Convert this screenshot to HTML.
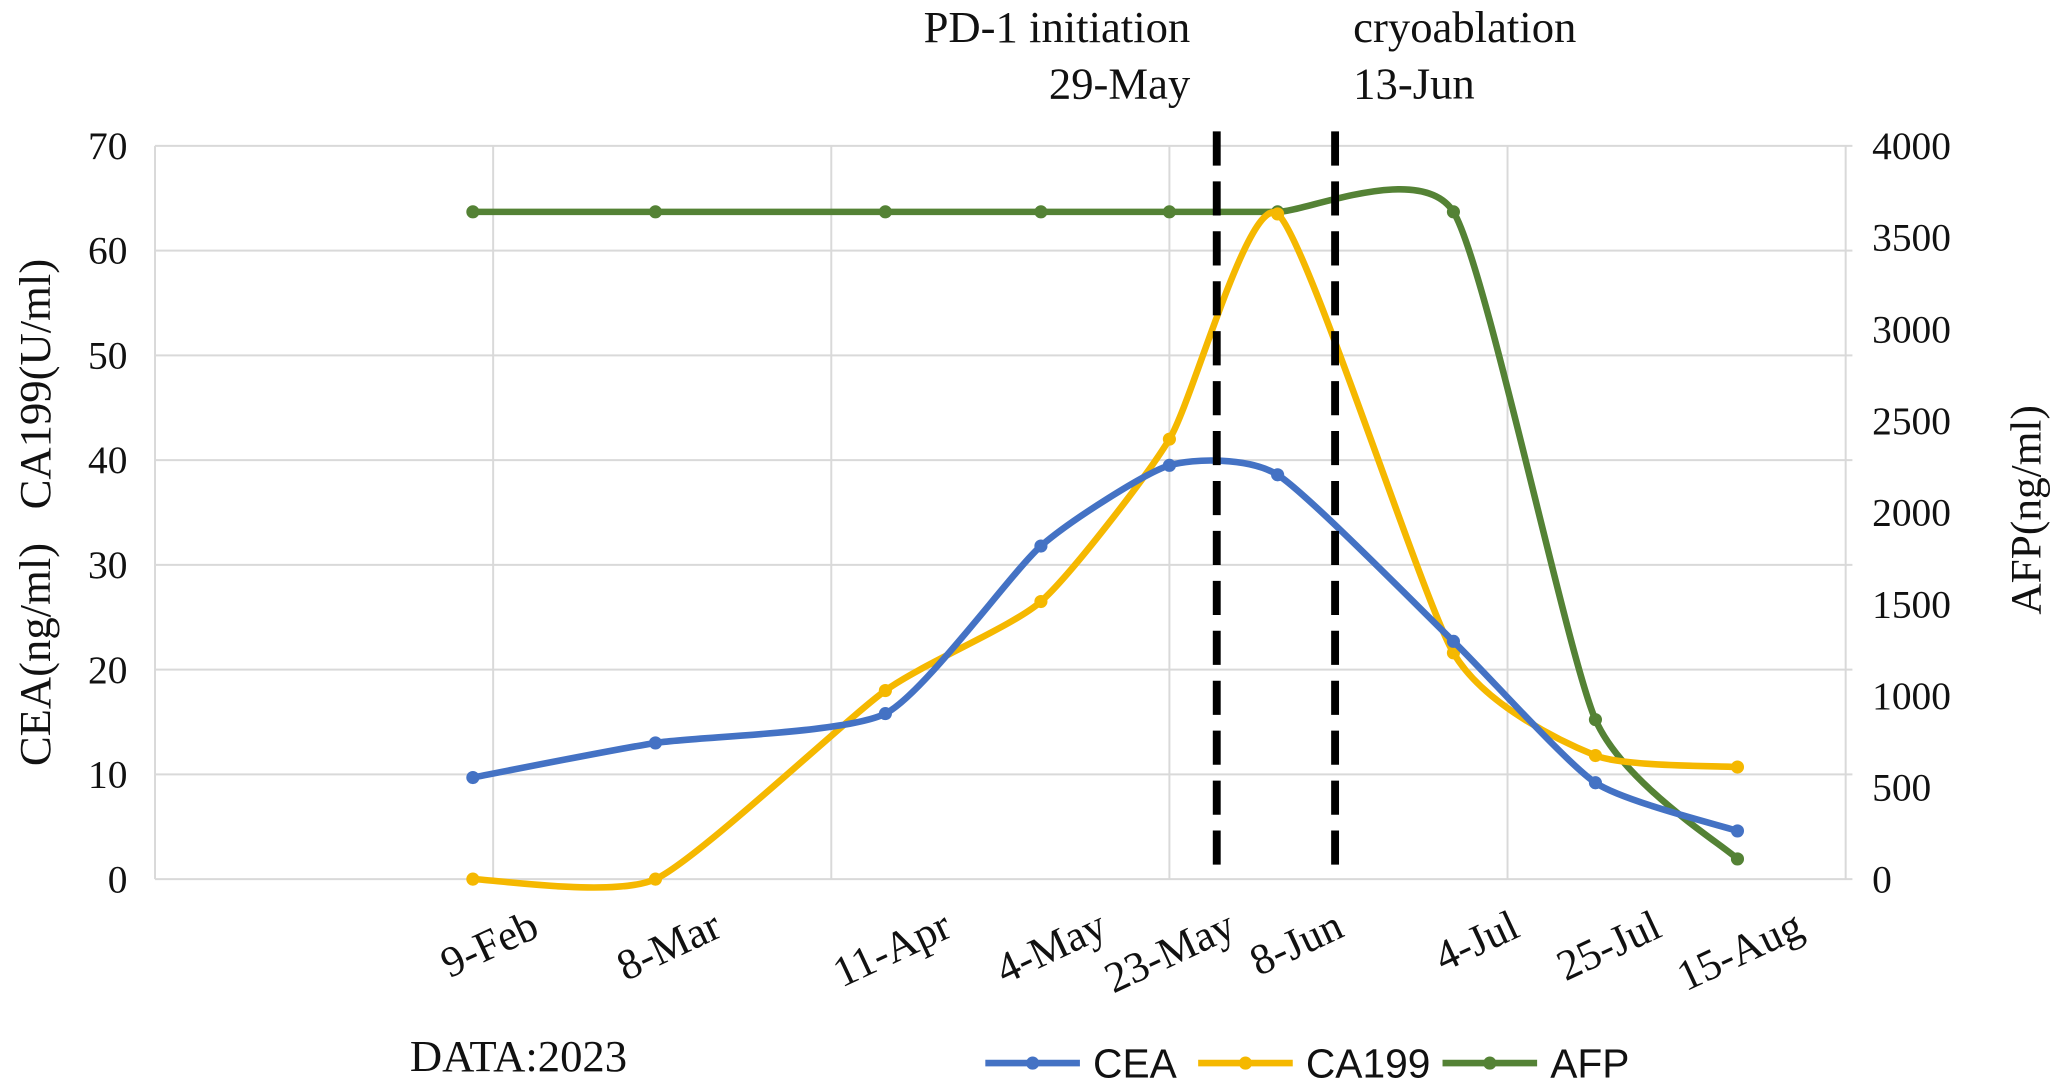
<!DOCTYPE html>
<html><head><meta charset="utf-8"><style>
html,body{margin:0;padding:0;background:#fff;}
svg{display:block;}
text{font-family:"Liberation Serif",serif;fill:#111;white-space:pre;}
</style></head><body>
<svg id="chart" width="2060" height="1092" viewBox="0 0 1568 831" preserveAspectRatio="none" xmlns="http://www.w3.org/2000/svg"></svg>
<script>
const dateLabels=["9-Feb","8-Mar","11-Apr","4-May","23-May","8-Jun","4-Jul","25-Jul","15-Aug"];
const dayOffsets=[0,27,61,84,103,119,145,166,187];
const ceaValues=[9.7,13.0,15.8,31.8,39.5,38.6,22.7,9.2,4.6];
const ca199Values=[0,0,18.0,26.5,42.0,63.5,21.6,11.8,10.7];
const afpValues=[3640,3640,3640,3640,3640,3640,3640,870,110];
const leftTicks=[0,10,20,30,40,50,60,70];
const rightTicks=[0,500,1000,1500,2000,2500,3000,3500,4000];
const eventDays=[110,127.5];
const eventLabels=[["PD-1 initiation","29-May"],["cryoablation","13-Jun"]];

const NS="http://www.w3.org/2000/svg";
const svg=document.getElementById('chart');
const L=118,R=1410,T=111,B=669,D0=-47,D1=204;
const x=d=>L+(d-D0)*(R-L)/(D1-D0);
const yL=v=>B-v*(B-T)/70;
const yR=v=>B-v*(B-T)/4000;
function el(tag,attrs,parent){const e=document.createElementNS(NS,tag);for(const k in attrs)e.setAttribute(k,attrs[k]);(parent||svg).appendChild(e);return e;}

for(const t of leftTicks){const g=el('line',{x1:L,x2:R,y1:yL(t),y2:yL(t),stroke:'#d9d9d9','stroke-width':1.5});

}
for(let d=D0;d<=D1+1;d+=50){const g=el('line',{x1:x(d),x2:x(d),y1:T,y2:B,stroke:'#d9d9d9','stroke-width':1.5});

}
for(const t of leftTicks){const tx=el('text',{x:97,y:yL(t)+10,'text-anchor':'end','font-size':30});tx.textContent=t;

}
for(const t of rightTicks){const tx=el('text',{x:1425,y:yR(t)+10,'text-anchor':'start','font-size':30});tx.textContent=t;

}
dateLabels.forEach((lab,i)=>{const px=x(dayOffsets[i])+52,py=712;
const tx=el('text',{x:px,y:py,'text-anchor':'end','font-size':33,transform:`rotate(-25 ${px} ${py})`});tx.textContent=lab;

});
let at=el('text',{x:0,y:0,'font-size':34,'text-anchor':'middle',transform:'translate(38 390) rotate(-90)'});at.textContent='CEA(ng/ml)   CA199(U/ml)';


at=el('text',{x:0,y:0,'font-size':33,'text-anchor':'middle',transform:'translate(1553 388) rotate(-90)'});at.textContent='AFP(ng/ml)';


at=el('text',{x:312,y:815,'font-size':34});at.textContent='DATA:2023';



function smooth(pts){let d=`M${pts[0][0]},${pts[0][1]}`;
for(let i=0;i<pts.length-1;i++){const p0=pts[i-1]||pts[i],p1=pts[i],p2=pts[i+1],p3=pts[i+2]||p2;const k=0.1;
d+=` C${p1[0]+(p2[0]-p0[0])*k},${p1[1]+(p2[1]-p0[1])*k} ${p2[0]-(p3[0]-p1[0])*k},${p2[1]-(p3[1]-p1[1])*k} ${p2[0]},${p2[1]}`;}return d;}
function series(vals,yf,color,name){const pts=vals.map((v,i)=>[x(dayOffsets[i]),yf(v)]);
const p=el('path',{d:smooth(pts),fill:'none',stroke:color,'stroke-width':5,'stroke-linejoin':'round'});


pts.forEach(q=>{const c=el('circle',{cx:q[0],cy:q[1],r:5,fill:color});

});}
series(afpValues,yR,'#548235','afp');
series(ca199Values,yL,'#f5b800','ca199');
series(ceaValues,yL,'#4472c4','cea');

eventDays.forEach((d,i)=>{const ln=el('line',{x1:x(d),x2:x(d),y1:100,y2:669,stroke:'#000','stroke-width':6,'stroke-dasharray':'26,12'});

});
let t1=el('text',{x:906,y:32,'text-anchor':'end','font-size':34});t1.textContent=eventLabels[0][0];


t1=el('text',{x:906,y:75,'text-anchor':'end','font-size':34});t1.textContent=eventLabels[0][1];


t1=el('text',{x:1030,y:32,'font-size':34});t1.textContent=eventLabels[1][0];


t1=el('text',{x:1030,y:75,'font-size':34});t1.textContent=eventLabels[1][1];



[['CEA','#4472c4',750],['CA199','#f5b800',912],['AFP','#548235',1098]].forEach(([n,c,lx])=>{
const g=el('g',{});


el('line',{x1:lx,x2:lx+72,y1:809,y2:809,stroke:c,'stroke-width':5},g);
el('circle',{cx:lx+36,cy:809,r:5,fill:c},g);
const tx=el('text',{x:lx+82,y:820,'font-size':31,style:'font-family:"Liberation Sans",sans-serif'},g);tx.textContent=n;});
</script>
</body></html>
